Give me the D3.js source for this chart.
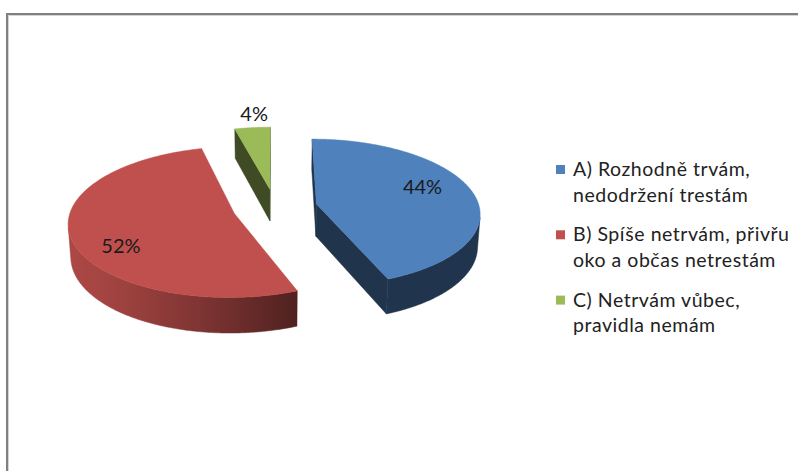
<!DOCTYPE html>
<html><head><meta charset="utf-8">
<script src="https://cdn.jsdelivr.net/npm/d3@7"></script>
<style>body{margin:0;background:#fff;} svg{display:block;}</style>
</head><body>
<svg id="chart" width="798" height="471"></svg>
<script>
// ---- data ----
const categories = ["A) Rozhodně trvám, nedodržení trestám", "B) Spíše netrvám, přivřu oko a občas netrestám", "C) Netrvám vůbec, pravidla nemám"];
const legendLines = [["A) Rozhodně trvám,", "nedodržení trestám"], ["B) Spíše netrvám, přivřu", "oko a občas netrestám"], ["C) Netrvám vůbec,", "pravidla nemám"]];
const values = [44, 52, 4];
const colors = ["#4F81BD", "#C0504D", "#9BBB59"];

// ---- layout ----
const W = 798, H = 471;
const FONT = "Lato, 'Open Sans', sans-serif";
const svg = d3.select("#chart");
const defs = svg.append("defs");

svg.append("rect").attr("x", 7).attr("y", 14).attr("width", W).attr("height", H)
  .attr("fill", "#fff").attr("stroke", "#808080").attr("stroke-width", 2);
svg.append("path").attr("d", `M8.5,${H} V15.5 H${W}`).attr("fill", "none")
  .attr("stroke", "#d4d4d4").attr("stroke-width", 1);

// 3D perspective pie parameters
const cx = 275, cy = 207.5, s = 163;
const sinF = 0.448, cosF = Math.sqrt(1 - sinF * sinF);
const q = 0.1275, thick = 0.225, explode = 0.26;
const camZ = -cosF / q;
function proj(X, Z, h) {
  const d = 1 + q * (Z * cosF - h * sinF);
  return [cx + s * X / d, cy - s * (Z * sinF + h * cosF) / d];
}
const L = [-0.93, -0.37];
function shade(col, b) {
  const c = d3.rgb(col);
  return d3.rgb(c.r * b, c.g * b, c.b * b).formatHex();
}
const wallB = th => 0.41 + 0.48 * Math.max(0, Math.sin(th) * L[0] + Math.cos(th) * L[1]);

const arcs = d3.pie().sort(null).value(d => d)(values);
const line = d3.line();
const slices = arcs.map((a, i) => {
  const mid = (a.startAngle + a.endAngle) / 2;
  return { i, a, mid, Cx: explode * Math.sin(mid), Cz: explode * Math.cos(mid) };
}).sort((u, v) => v.Cz - u.Cz);

const g = svg.append("g");
slices.forEach(sl => {
  const { i, a, Cx, Cz } = sl;
  const col = colors[i];
  const a0 = a.startAngle, a1 = a.endAngle;
  const pt = (th, h) => proj(Cx + Math.sin(th), Cz + Math.cos(th), h);
  const N = Math.max(8, Math.ceil((a1 - a0) / (Math.PI / 360)));
  const ths = d3.range(N + 1).map(k => a0 + (a1 - a0) * k / N);
  const sg = g.append("g");
  // radial faces
  const faceCol = shade(col, 0.40);
  const visStart = (-Math.cos(a0)) * (0 - Cx) + Math.sin(a0) * (camZ - Cz) > 0;
  const visEnd = Math.cos(a1) * (0 - Cx) + (-Math.sin(a1)) * (camZ - Cz) > 0;
  [[a0, visStart], [a1, visEnd]].forEach(([th, v]) => {
    if (!v) return;
    const pts = [proj(Cx, Cz, 0), pt(th, 0), pt(th, -thick), proj(Cx, Cz, -thick)];
    sg.append("path").attr("d", line(pts) + "Z").attr("fill", faceCol)
      .attr("stroke", faceCol).attr("stroke-width", 0.5);
  });
  // outer wall runs
  const vis = th => {
    const Px = Cx + Math.sin(th), Pz = Cz + Math.cos(th);
    return Math.sin(th) * (0 - Px) + Math.cos(th) * (camZ - Pz) > 0;
  };
  let runs = [], cur = [];
  ths.forEach(th => { if (vis(th)) cur.push(th); else { if (cur.length > 1) runs.push(cur); cur = []; } });
  if (cur.length > 1) runs.push(cur);
  runs.forEach((run, r) => {
    const top = run.map(th => pt(th, 0));
    const bot = run.map(th => pt(th, -thick)).reverse();
    const xs = top.map(p => p[0]);
    const x1 = d3.min(xs), x2 = d3.max(xs);
    const gid = `wall${i}_${r}`;
    const grad = defs.append("linearGradient").attr("id", gid)
      .attr("gradientUnits", "userSpaceOnUse")
      .attr("x1", x1).attr("x2", x2).attr("y1", 0).attr("y2", 0);
    const stops = run.map((th, k) => ({ o: (x2 > x1) ? (top[k][0] - x1) / (x2 - x1) : 0, c: shade(col, wallB(th)) }))
      .sort((u, v) => u.o - v.o);
    const step = Math.max(1, Math.floor(stops.length / 40));
    stops.filter((d, k) => k % step === 0 || k === stops.length - 1).forEach(st =>
      grad.append("stop").attr("offset", st.o).attr("stop-color", st.c));
    sg.append("path").attr("d", line(top.concat(bot)) + "Z").attr("fill", `url(#${gid})`)
      .attr("stroke", `url(#${gid})`).attr("stroke-width", 0.5);
  });
  // top face
  const topPts = [proj(Cx, Cz, 0)].concat(ths.map(th => pt(th, 0)));
  sg.append("path").attr("d", line(topPts) + "Z").attr("fill", col)
    .attr("stroke", col).attr("stroke-width", 0.5);
});

// data labels
const labelPlace = [{ r: 0.68, dx: 0, dy: -8 }, { r: 0.70, dx: 0, dy: 16 }, { r: 1.15, dx: 4, dy: -6 }];
const total = d3.sum(values);
arcs.forEach((a, i) => {
  const mid = (a.startAngle + a.endAngle) / 2;
  const Cx = explode * Math.sin(mid), Cz = explode * Math.cos(mid);
  const lp = labelPlace[i];
  const p = proj(Cx + lp.r * Math.sin(mid), Cz + lp.r * Math.cos(mid), 0);
  svg.append("text").attr("x", p[0] + lp.dx).attr("y", p[1] + lp.dy).attr("dy", "0.36em")
    .attr("text-anchor", "middle").attr("font-family", FONT)
    .attr("font-size", 20).attr("fill", "#1a1a1a")
    .text(d3.format(".0%")(values[i] / total));
});

// legend
const legendX = 556, textX = 573, legendRight = 789;
const legendY0 = 176, legendStep = 65.3, lineH = 25.5;
const lg = svg.append("g");
const tspans = [];
legendLines.forEach((lines, i) => {
  const y = legendY0 + i * legendStep;
  lg.append("rect").attr("x", legendX).attr("y", y - 11).attr("width", 9).attr("height", 9).attr("fill", colors[i]);
  const t = lg.append("text").attr("x", textX).attr("y", y)
    .attr("font-family", FONT).attr("font-size", 19.5).attr("fill", "#222");
  lines.forEach((ln, k) => tspans.push(t.append("tspan").attr("x", textX).attr("y", y + k * lineH).text(ln)));
});
// fit the widest legend line to the legend box via letter spacing
let widest = null, wmax = 0;
tspans.forEach(ts => { const w = ts.node().getComputedTextLength(); if (w > wmax) { wmax = w; widest = ts; } });
const n = widest.text().length;
const ls = Math.max(0, (legendRight - textX - wmax) / (n - 1));
lg.selectAll("text").attr("letter-spacing", ls.toFixed(2));
</script>
</body></html>
